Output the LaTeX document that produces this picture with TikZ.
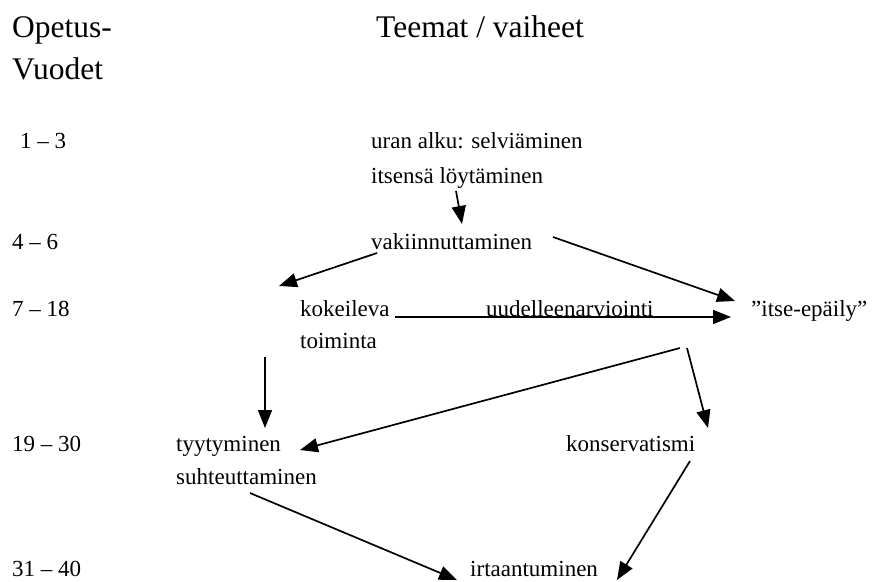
\documentclass[tikz,border=0pt]{standalone}
\usepackage{fontspec}
\setmainfont{Liberation Serif}
\usetikzlibrary{arrows.meta}
\begin{document}
\begin{tikzpicture}[x=1pt,y=-1pt,
  head/.style={anchor=base west,inner sep=0pt,font=\fontsize{31.5}{36}\selectfont},
  lbl/.style={anchor=base west,inner sep=0pt,font=\fontsize{23}{27}\selectfont},
  flow/.style={line width=1.7pt,-{Triangle[length=18pt,width=14pt]}}]
\useasboundingbox (0,0) rectangle (880,581);

% column headings
\node[head] (h1) at (12,37) {Opetus-};
\node[head] (h2) at (12,79) {Vuodet};
\node[head] (h3) at (376,37) {Teemat / vaiheet};

% teaching years
\node[lbl] (y1) at (20,148) {1 – 3};
\node[lbl] (y2) at (12,249) {4 – 6};
\node[lbl] (y3) at (12,316) {7 – 18};
\node[lbl] (y4) at (12,451) {19 – 30};
\node[lbl] (y5) at (12,576) {31 – 40};

% themes
\node[lbl] (alku1) at (371,148) {uran alku: selviäminen};
\node[lbl] (alku2) at (371,183) {itsensä löytäminen};
\node[lbl] (vak) at (371,249) {vakiinnuttaminen};
\node[lbl] (kok1) at (300,316) {kokeileva};
\node[lbl] (kok2) at (300,348) {toiminta};
\node[lbl] (uud) at (486,316) {uudelleenarviointi};
\node[lbl] (itse) at (751,316) {”itse-epäily”};
\node[lbl] (tyy1) at (176,451) {tyytyminen};
\node[lbl] (tyy2) at (176,484) {suhteuttaminen};
\node[lbl] (kons) at (566,451) {konservatismi};
\node[lbl] (irt) at (470,576) {irtaantuminen};

% connector end points
\coordinate (alkuS) at (456,191);
\coordinate (vakN) at (462,224);
\coordinate (vakW) at (377,253);
\coordinate (kokNE) at (279,286);
\coordinate (vakE) at (553,237);
\coordinate (itseNW) at (735,301);
\coordinate (kokE) at (395,317);
\coordinate (itseW) at (731,317);
\coordinate (itseS1) at (680,348);
\coordinate (tyyE) at (300,450);
\coordinate (itseS2) at (687,348);
\coordinate (konsN) at (708,428);
\coordinate (kokS) at (265,357);
\coordinate (tyyN) at (265,428);
\coordinate (tyyS) at (250,493);
\coordinate (irtW) at (457,580);
\coordinate (konsS) at (690,461);
\coordinate (irtE) at (617,580);

% transitions
\draw[flow] (alkuS) -- (vakN);
\draw[flow] (vakW) -- (kokNE);
\draw[flow] (vakE) -- (itseNW);
\draw[flow] (kokE) -- (itseW);
\draw[flow] (itseS1) -- (tyyE);
\draw[flow] (itseS2) -- (konsN);
\draw[flow] (kokS) -- (tyyN);
\draw[flow] (tyyS) -- (irtW);
\draw[flow] (konsS) -- (irtE);
\end{tikzpicture}
\end{document}
